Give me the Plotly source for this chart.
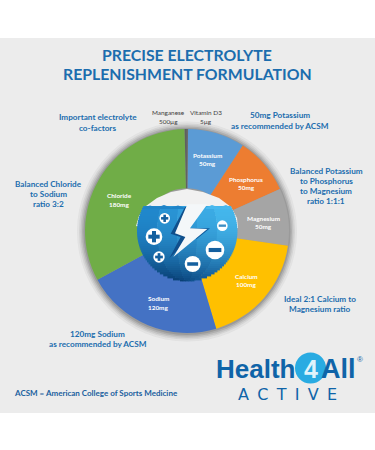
import plotly.graph_objects as go
import math

W, H = 375, 450

# ---- data ----
slices = ["Potassium", "Phosphorus", "Magnesium", "Calcium", "Sodium", "Chloride", "Manganese", "Vitamin D3"]
slice_values = [50, 50, 50, 100, 120, 180, 2, 1]
slice_colors = ["#5b9bd5", "#ed7d31", "#a5a5a5", "#ffc000", "#4472c4", "#70ad47", "#5f5f5f", "#6a6a6a"]

title_lines = ["PRECISE ELECTROLYTE", "REPLENISHMENT FORMULATION"]

# (text, x centre, y centre) in pixels of the 375x450 page
slice_labels = [
    ("Potassium", 207, 155), ("50mg", 207, 163),
    ("Phosphorus", 246, 179), ("50mg", 246, 187),
    ("Magnesium", 263, 218), ("50mg", 263, 226),
    ("Calcium", 246, 276), ("100mg", 246, 284),
    ("Sodium", 158, 298), ("120mg", 158, 307),
    ("Chloride", 119, 196), ("180mg", 119, 204),
]
blue_notes = [
    ("Important electrolyte", 98, 117.5), ("co-factors", 98, 127.5),
    ("50mg Potassium", 280, 115.5), ("as recommended by ACSM", 280, 125.5),
    ("Balanced Potassium", 326, 171), ("to Phosphorus", 326, 181),
    ("to Magnesium", 326, 191), ("ratio 1:1:1", 326, 201),
    ("Ideal 2:1 Calcium to", 320, 299), ("Magnesium ratio", 320, 309),
    ("Balanced Chloride", 49, 184), ("to Sodium", 49, 194), ("ratio 3:2", 49, 204),
    ("120mg Sodium", 98, 334), ("as recommended by ACSM", 98, 344),
]
grey_notes = [
    ("Manganese", 168, 113), ("500µg", 168, 122),
    ("Vitamin D3", 205.5, 113), ("5µg", 205.5, 122),
]
footnote = "ACSM = American College of Sports Medicine"

BLUE = "#1b6dae"
FONT = "Lato"

CX, CY, R = 187, 231, 102


def px(x):
    return x / W


def py(y):
    return 1 - y / H


def poly(pts, fill, line=None, layer="above", opacity=None):
    path = "M " + " L ".join(f"{px(x):.5f},{py(y):.5f}" for x, y in pts) + " Z"
    s = dict(type="path", xref="paper", yref="paper", path=path, fillcolor=fill, layer=layer,
             line=dict(width=0.6, color=line) if line else dict(width=0))
    if opacity is not None:
        s["opacity"] = opacity
    return s


def circle(x, y, r, fill, layer="above", opacity=None):
    s = dict(type="circle", xref="paper", yref="paper", x0=px(x - r), x1=px(x + r),
             y0=py(y + r), y1=py(y - r), fillcolor=fill, line=dict(width=0), layer=layer)
    if opacity is not None:
        s["opacity"] = opacity
    return s


def rect(x0, y0, x1, y1, fill, layer="above"):
    return dict(type="rect", xref="paper", yref="paper", x0=px(x0), x1=px(x1), y0=py(y1), y1=py(y0),
                fillcolor=fill, line=dict(width=0), layer=layer)


def mix(a, b, t):
    return tuple(a[i] + (b[i] - a[i]) * t for i in range(3))


shapes = [rect(0, 38, W, 413, "#ececec", "below")]
# soft shadow round the wheel
for dr, op in [(8, .05), (6, .07), (4.5, .09), (3, .12), (1.5, .15)]:
    shapes.append(circle(CX, CY + 0.5, R + dr, "#222222", "below", op))

# pale cap of the centre hole
cap = [(136, 226), (139, 216), (146, 206), (157, 198), (171, 192), (187, 189), (203, 192), (219, 198),
       (231, 207), (237, 218), (238, 228)]
shapes.append(poly(cap + [(187, 240)], "#f1f1f1"))

# water disc: gradient built from thin clipped pieces
ICX, ICY, IR = 187, 231, 50
TOP, BOT = 206, 281
tl, tr = (28, 130, 200), (72, 188, 240)
bl, br = (8, 60, 112), (16, 84, 145)
y = TOP
while y < BOT:
    y2 = min(y + 2, BOT)
    ym = (y + y2) / 2
    half = math.sqrt(max(IR ** 2 - (ym - ICY) ** 2, 0))
    xa, xb = ICX - half, ICX + half
    t = ((ym - TOP) / (BOT - TOP)) ** 2
    left, right = mix(tl, bl, t), mix(tr, br, t)
    n = 5
    for k in range(n):
        x0 = xa + (xb - xa) * k / n
        x1 = xa + (xb - xa) * (k + 1) / n
        c = mix(left, right, (k + .5) / n)
        col = f"rgb({c[0]:.0f},{c[1]:.0f},{c[2]:.0f})"
        shapes.append(rect(x0, y, x1 + .4, y2 + .4, col))
    y = y2

# wave crests on the water line
wave = [(142, 208), (150, 205.5), (157, 207.5), (164, 205), (171, 207.5), (178, 205.5), (184, 207.5)]
wave2 = [(206, 207.5), (212, 205), (219, 207.5), (226, 205), (232, 208)]
shapes.append(poly(wave + [(184, 209), (142, 209)], "#1f84c8"))
shapes.append(poly(wave2 + [(232, 209), (206, 209)], "#48b8ee"))


def z(pts):
    return [(130 + a / 3, 195 + b / 3) for a, b in pts]


# lightning bolt
shapes.append(poly(z([(165, 36), (122, 116), (152, 126), (118, 190), (168, 140), (172, 36)]), "#0f4f8c"))
shapes.append(poly(z([(178, 100), (240, 100), (200, 132), (178, 112)]), "#0f5a9c"))
shapes.append(poly(z([(172, 28), (135, 115), (166, 126), (130, 186), (232, 102), (180, 100), (232, 28)]), "#f4f7f9"))

# plus and minus tokens
DARK = "#14609f"
for cx, cy, r in [(72, 125, 25), (104, 70, 16), (87, 186, 17)]:
    x, y = 130 + cx / 3, 195 + cy / 3
    r /= 3
    shapes.append(circle(x, y, r, "white"))
    a, b = r * .68, r * .24
    shapes.append(rect(x - a, y - b, x + a, y + b, DARK))
    shapes.append(rect(x - b, y - a, x + b, y + a, DARK))
for cx, cy, r in [(255, 165, 28), (188, 207, 24), (277, 92, 16)]:
    x, y = 130 + cx / 3, 195 + cy / 3
    r /= 3
    shapes.append(circle(x, y, r, "white"))
    a, b = r * .68, r * .22
    shapes.append(rect(x - a, y - b, x + a, y + b, DARK if cx != 277 else "#3d8fc4"))

# logo badge
LOGO = "#0f64a8"
shapes.append(circle(310.5, 368, 15.5, "#29abe2"))


def note(text, x, y, size, color, family=FONT, bold=True, xanchor="center"):
    t = f"<b>{text}</b>" if bold else text
    return dict(text=t, x=px(x), y=py(y), xref="paper", yref="paper", showarrow=False,
                xanchor=xanchor, yanchor="middle", borderpad=0,
                font=dict(size=size, color=color, family=family))


ann = []
ann.append(note(title_lines[0], 187, 54, 15.8, BLUE))
ann.append(note(title_lines[1], 187, 74, 15.8, BLUE))
ann += [note(t, x, y, 8.2, BLUE) for t, x, y in blue_notes]
ann += [note(t, x, y, 6.4, "#3d3d3d", bold=False) for t, x, y in grey_notes]
ann += [note(t, x, y, 6.4, "white") for t, x, y in slice_labels]
ann.append(note(footnote, 13, 393, 8, "#1a5f9e", xanchor="left"))
LF = "Liberation Sans"
ann.append(note("Health", 296, 368.5, 26, LOGO, LF, xanchor="right"))
ann.append(note("All", 320, 368.5, 27, LOGO, LF, xanchor="left"))
ann.append(note("4", 310.5, 368.5, 25, "#dff3fb", LF))
ann.append(note("®", 360, 359, 8, LOGO, LF, bold=False))
ann.append(note("A\u2009 C\u2009 T\u2009 I\u2009 V\u2009 E", 287, 394, 16, LOGO, "DejaVu Sans", bold=False))

fig = go.Figure(go.Pie(
    labels=slices, values=slice_values, sort=False, direction="clockwise", rotation=0.6,
    hole=0.42, marker=dict(colors=slice_colors, line=dict(width=0)), textinfo="none",
    domain=dict(x=[(CX - R) / W, (CX + R) / W], y=[1 - (CY + R) / H, 1 - (CY - R) / H]),
    showlegend=False, hoverinfo="label+value",
))
fig.update_layout(width=W, height=H, margin=dict(l=0, r=0, t=0, b=0), paper_bgcolor="white",
                  shapes=shapes, annotations=ann, showlegend=False)
fig.write_html("out.html", config=dict(displayModeBar=False),
               post_script="document.body.style.margin='0';document.body.style.overflow='hidden';")
